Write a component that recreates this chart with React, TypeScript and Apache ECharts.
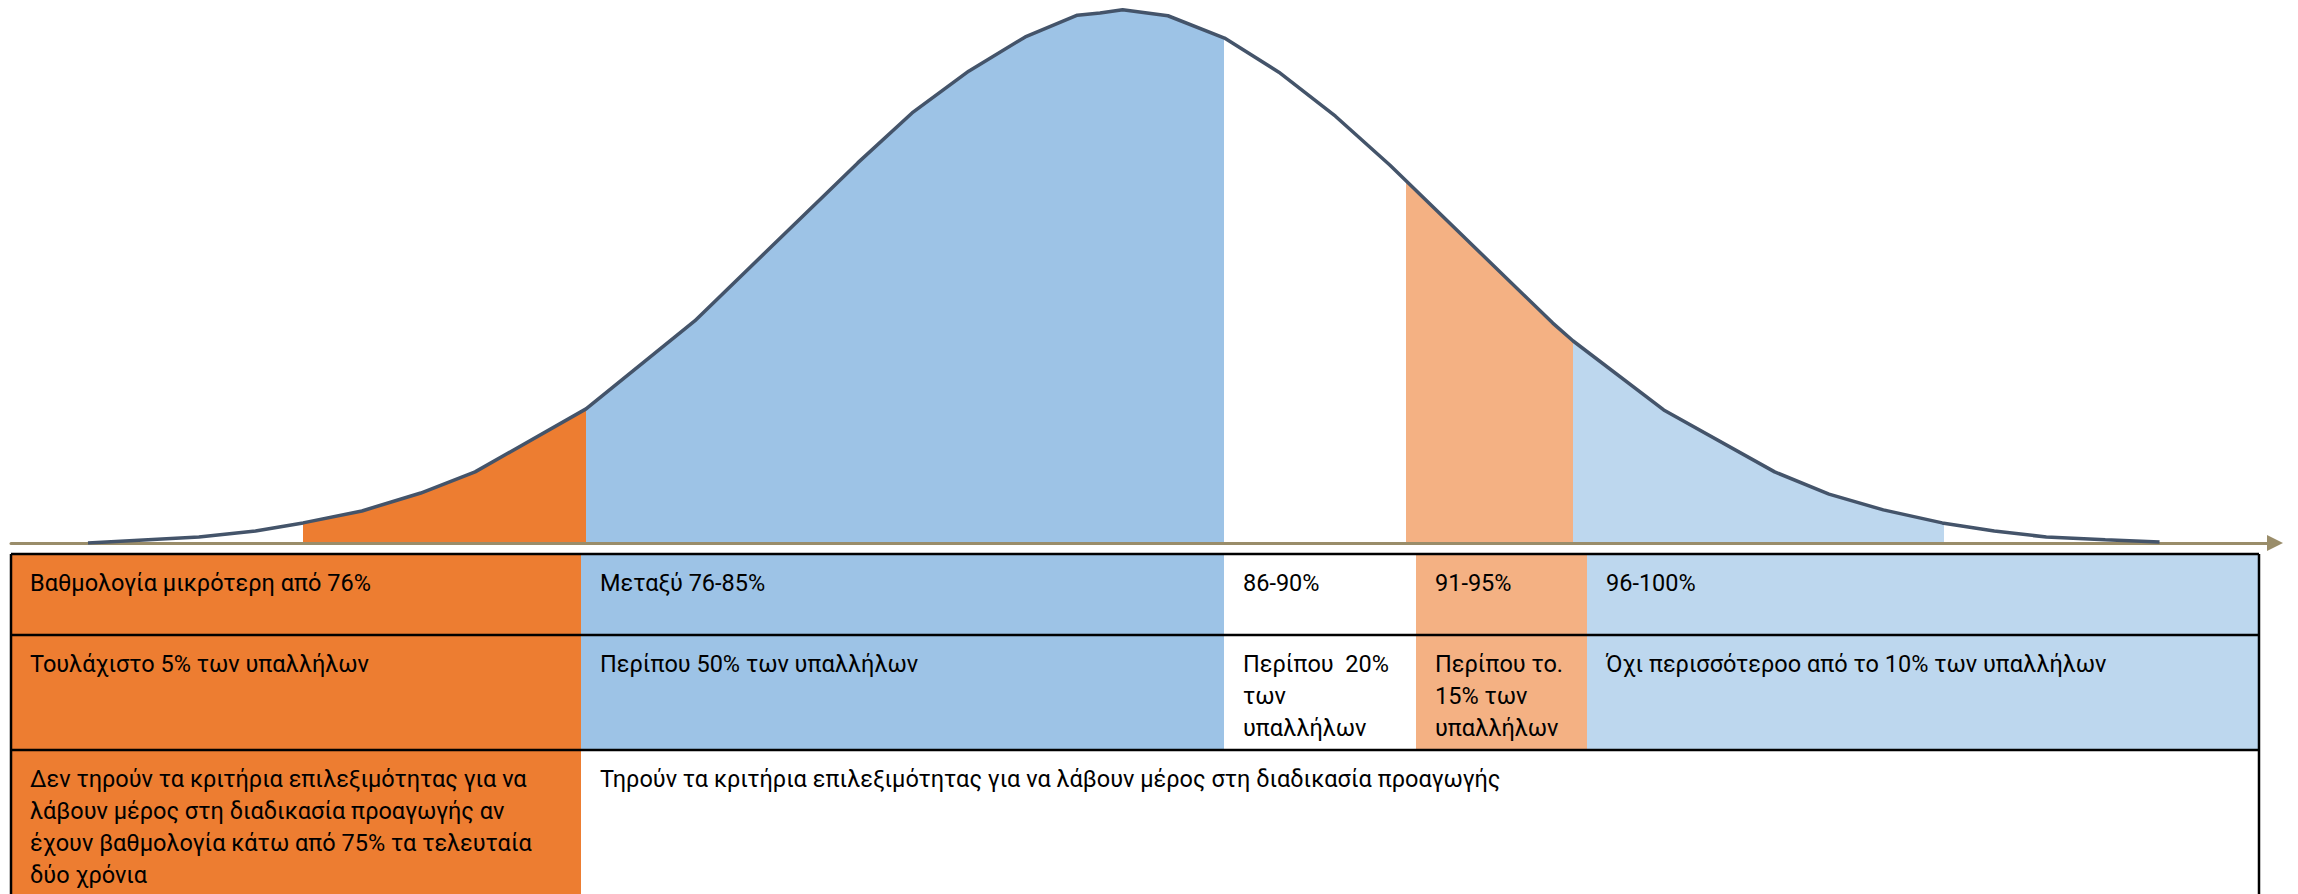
import { useEffect, useRef } from "react";
import * as echarts from "echarts";

// Bell curve vertices: position along the axis (0–100) and relative height (0–100)
const curveX = [3.4, 8.3, 10.8, 12.9, 15.5, 18.1, 20.5, 25.4, 30.2, 37.4, 39.8, 42.3, 44.8, 47.1, 48.1, 49.1, 51.1, 53.6, 56.0, 58.5, 60.9, 68.1, 69.0, 73.0, 77.9, 80.3, 82.7, 85.3, 87.6, 89.9, 92.5, 94.9];
const curveY = [0.0, 1.1, 2.2, 3.7, 5.9, 9.2, 13.1, 24.7, 40.9, 70.0, 79.2, 86.9, 93.2, 97.2, 97.6, 98.2, 97.1, 93.0, 86.7, 78.6, 69.6, 40.5, 37.2, 24.5, 13.1, 9.0, 6.1, 3.7, 2.2, 1.1, 0.6, 0.2];

// Shaded bands under the curve (axis positions)
const bandFrom = [12.9, 25.4, 53.6, 61.6, 69.0];
const bandTo = [25.4, 53.6, 61.6, 69.0, 85.4];
const bandColors = ["#ED7D31", "#9DC3E6", "rgba(255,255,255,0)", "#F4B183", "#BDD7EE"];

// Table contents
const scoreRanges = ["Βαθμολογία μικρότερη από 76%", "Μεταξύ 76-85%", "86-90%", "91-95%", "96-100%"];
const staffShares = [
  "Τουλάχιστο 5% των υπαλλήλων",
  "Περίπου 50% των υπαλλήλων",
  "Περίπου  20%\nτων\nυπαλλήλων",
  "Περίπου το.\n15% των\nυπαλλήλων",
  "Όχι περισσότεροο από το 10% των υπαλλήλων",
];
const eligibility = [
  "Δεν τηρούν τα κριτήρια επιλεξιμότητας για να\nλάβουν μέρος στη διαδικασία προαγωγής αν\nέχουν βαθμολογία κάτω από 75% τα τελευταία\nδύο χρόνια",
  "Τηρούν τα κριτήρια επιλεξιμότητας για να λάβουν μέρος στη διαδικασία προαγωγής",
];
const cellColors = ["#ED7D31", "#9DC3E6", "#FFFFFF", "#F4B183", "#BDD7EE"];
const eligibilityColors = ["#ED7D31", "#FFFFFF"];

// Table layout in pixels
const COL_EDGES = [11, 581, 1224, 1416, 1587, 2259];
const ROW_EDGES = [554, 635, 750, 894];
const PAD_X = 19;
const PAD_Y = 13;
const FONT = "23.5px Roboto, 'Liberation Sans', sans-serif";
const LINE_H = 32;

function buildTable(): any[] {
  const els: any[] = [];
  const rows = [scoreRanges, staffShares];
  rows.forEach((row, r) => {
    row.forEach((_, c) => {
      els.push({
        type: "rect",
        silent: true,
        shape: {
          x: COL_EDGES[c],
          y: ROW_EDGES[r],
          width: COL_EDGES[c + 1] - COL_EDGES[c],
          height: ROW_EDGES[r + 1] - ROW_EDGES[r],
        },
        style: { fill: cellColors[c] },
      });
    });
  });
  const eligEdges = [COL_EDGES[0], COL_EDGES[1], COL_EDGES[5]];
  eligibility.forEach((_, c) => {
    els.push({
      type: "rect",
      silent: true,
      shape: {
        x: eligEdges[c],
        y: ROW_EDGES[2],
        width: eligEdges[c + 1] - eligEdges[c],
        height: ROW_EDGES[3] - ROW_EDGES[2],
      },
      style: { fill: eligibilityColors[c] },
    });
  });

  // borders
  const L = COL_EDGES[0];
  const R = COL_EDGES[COL_EDGES.length - 1];
  [ROW_EDGES[0], ROW_EDGES[1], ROW_EDGES[2]].forEach((y) => {
    els.push({
      type: "line",
      silent: true,
      shape: { x1: L, y1: y, x2: R, y2: y },
      style: { stroke: "#000", lineWidth: 2.5 },
    });
  });
  [L, R].forEach((x) => {
    els.push({
      type: "line",
      silent: true,
      shape: { x1: x, y1: ROW_EDGES[0], x2: x, y2: ROW_EDGES[3] },
      style: { stroke: "#000", lineWidth: 2.5 },
    });
  });

  // texts
  rows.forEach((row, r) => {
    row.forEach((txt, c) => {
      els.push({
        type: "text",
        silent: true,
        x: COL_EDGES[c] + PAD_X,
        y: ROW_EDGES[r] + PAD_Y,
        style: { text: txt, font: FONT, fill: "#000", lineHeight: LINE_H, verticalAlign: "top", align: "left" },
      });
    });
  });
  eligibility.forEach((txt, c) => {
    els.push({
      type: "text",
      silent: true,
      x: eligEdges[c] + PAD_X,
      y: ROW_EDGES[2] + PAD_Y,
      style: { text: txt, font: FONT, fill: "#000", lineHeight: LINE_H, verticalAlign: "top", align: "left" },
    });
  });
  return els;
}

export default function App() {
  const ref = useRef<HTMLDivElement>(null);

  useEffect(() => {
    if (!ref.current) return;
    const chart = echarts.init(ref.current, undefined, { renderer: "svg" });
    const points = curveX.map((x, i) => [x, curveY[i]]);

    chart.setOption({
      animation: false,
      backgroundColor: "#FFFFFF",
      grid: { left: 11, right: 23, top: 0, bottom: 351 },
      xAxis: {
        type: "value",
        min: 0,
        max: 100,
        z: 3,
        axisLine: {
          show: true,
          onZero: true,
          symbol: ["none", "triangle"],
          symbolSize: [16, 16],
          lineStyle: { color: "#9A8D6A", width: 3 },
        },
        axisTick: { show: false },
        axisLabel: { show: false },
        splitLine: { show: false },
      },
      yAxis: {
        type: "value",
        min: 0,
        max: 100,
        show: false,
        splitLine: { show: false },
      },
      visualMap: {
        type: "piecewise",
        show: false,
        dimension: 0,
        seriesIndex: 0,
        pieces: bandFrom.map((f, i) => ({ gte: f, lt: bandTo[i], color: bandColors[i] })),
        outOfRange: { color: "rgba(255,255,255,0)" },
      },
      series: [
        {
          name: "bands",
          type: "line",
          data: points,
          z: 1,
          silent: true,
          showSymbol: false,
          symbol: "none",
          lineStyle: { width: 0, opacity: 0 },
          areaStyle: { opacity: 1 },
        },
        {
          name: "curve",
          type: "line",
          data: points,
          z: 5,
          silent: true,
          showSymbol: false,
          symbol: "none",
          lineStyle: { color: "#44546A", width: 3.5 },
        },
      ],
      graphic: buildTable(),
    });

    return () => chart.dispose();
  }, []);

  return (
    <div
      ref={ref}
      style={{ position: "absolute", left: 0, top: 0, width: 2298, height: 894 }}
    />
  );
}
